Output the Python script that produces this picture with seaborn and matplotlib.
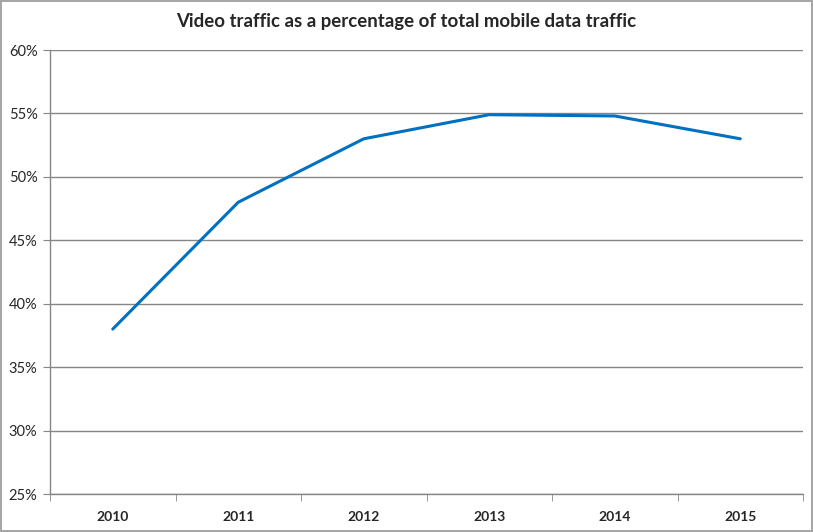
import pandas as pd
import matplotlib.pyplot as plt
from matplotlib.ticker import PercentFormatter, FixedLocator
import seaborn as sns

# Data
years = ['2010', '2011', '2012', '2013', '2014', '2015']
video_share = [38.0, 48.0, 53.0, 54.9, 54.8, 53.0]

df = pd.DataFrame({'pos': range(len(years)), 'Year': years, 'Share': video_share})

sns.set_style('white')
plt.rcParams['font.family'] = ['Lato', 'DejaVu Sans']

fig = plt.figure(figsize=(8.13, 5.32), dpi=100)
fig.patch.set_edgecolor('#a6a6a6')
fig.patch.set_linewidth(1.5)
ax = fig.add_axes([50 / 813, 38 / 532, 753 / 813, 444 / 532])

sns.lineplot(data=df, x='pos', y='Share', color='#0070c0', linewidth=2.2, ax=ax)

ax.set_xlim(-0.5, len(years) - 0.5)
ax.set_ylim(25, 60)
ax.set_yticks(range(25, 61, 5))
ax.yaxis.set_major_formatter(PercentFormatter(decimals=0))
ax.set_xticks(df['pos'])
ax.set_xticklabels(years, fontweight='bold', fontsize=10)
ax.xaxis.set_minor_locator(FixedLocator([i - 0.5 for i in range(len(years) + 1)]))
ax.tick_params(axis='x', which='major', length=0, pad=12)
ax.tick_params(axis='x', which='minor', length=5, color='#868686', direction='out', bottom=True)
ax.tick_params(axis='y', length=5, color='#868686', direction='out', left=True, labelsize=10.5, pad=4)
ax.grid(axis='y', color='#868686', linewidth=1)
ax.set_axisbelow(True)

for side in ['top', 'right']:
    ax.spines[side].set_visible(False)
for side in ['left', 'bottom']:
    ax.spines[side].set_color('#868686')
    ax.spines[side].set_linewidth(1)

ax.set_xlabel('')
ax.set_ylabel('')
fig.text(0.5, 1 - 22 / 532, 'Video traffic as a percentage of total mobile data traffic',
         ha='center', va='center', fontsize=13.4, fontweight='bold')

fig.savefig('out.png', dpi=100, edgecolor=fig.get_edgecolor())
